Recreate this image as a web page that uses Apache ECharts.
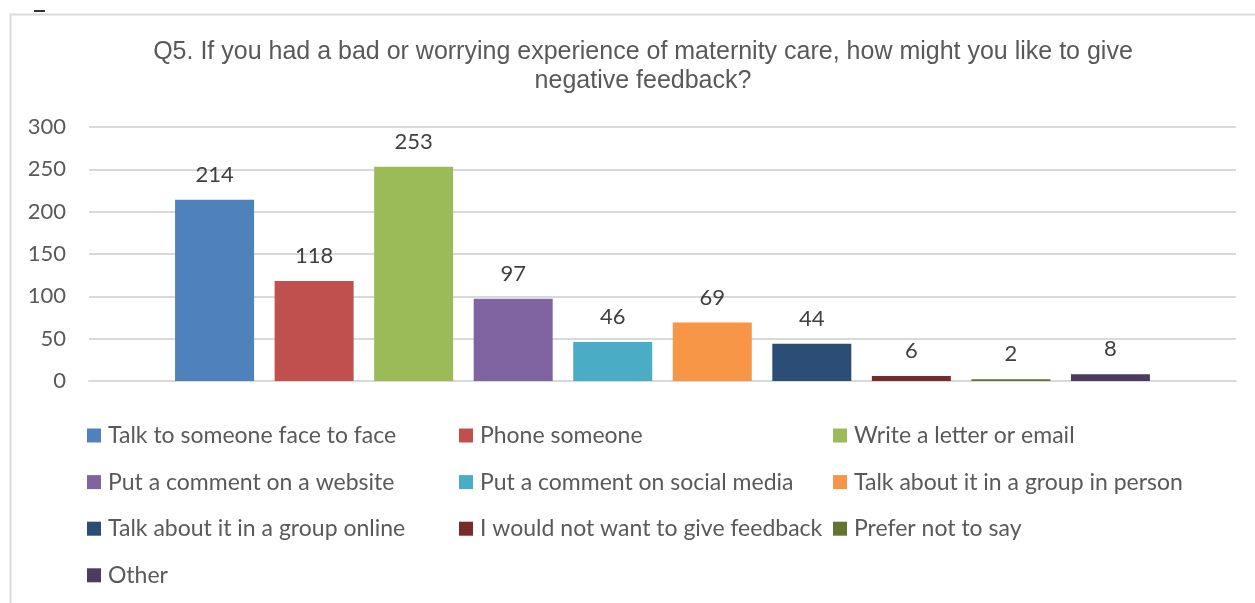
<!DOCTYPE html>
<html>
<head>
<meta charset="utf-8">
<script src="https://cdn.jsdelivr.net/npm/echarts@6/dist/echarts.min.js"></script>
<style>
  html, body { margin: 0; padding: 0; background: #ffffff; }
  #chart { width: 1255px; height: 603px; }
</style>
</head>
<body>
<div id="chart"></div>
<script>
// Responses to Q5, one series per answer option
const answers = [
  'Talk to someone face to face',
  'Phone someone',
  'Write a letter or email',
  'Put a comment on a website',
  'Put a comment on social media',
  'Talk about it in a group in person',
  'Talk about it in a group online',
  'I would not want to give feedback',
  'Prefer not to say',
  'Other'
];
const counts = [214, 118, 253, 97, 46, 69, 44, 6, 2, 8];
const colors = ['#4F81BD', '#C0504D', '#9BBB59', '#8064A2', '#4BACC6',
                '#F79646', '#2C4D75', '#772C2A', '#5F7530', '#4D3B62'];
const yTicks = [0, 50, 100, 150, 200, 250, 300];

// legend columns (answer indices)
const legendColumns = [[0, 3, 6, 9], [1, 4, 7], [2, 5, 8]];
const legendLeft = [87, 459, 833];

const chart = echarts.init(document.getElementById('chart'));

const series = answers.map((name, i) => ({
  name: name,
  type: 'bar',
  data: [counts[i]],
  barWidth: 79,
  barGap: '26%',
  itemStyle: { color: colors[i] },
  label: {
    show: true,
    position: 'top',
    distance: 14,
    color: '#404040',
    fontFamily: 'Lato',
    fontSize: 22
  }
}));

const legends = legendColumns.map((col, c) => ({
  orient: 'vertical',
  left: legendLeft[c],
  top: 424,
  height: 200,
  padding: 0,
  icon: 'rect',
  itemWidth: 14,
  itemHeight: 14,
  itemGap: 23.6,
  selectedMode: false,
  data: col.map(i => answers[i]),
  textStyle: {
    color: '#595959',
    fontFamily: 'Lato',
    fontSize: 23,
    padding: [0, 0, 0, 2]
  }
}));

chart.setOption({
  animation: false,
  title: {
    text: 'Q5. If you had a bad or worrying experience of maternity care, how might you like to give\nnegative feedback?',
    left: 638,
    textAlign: 'center',
    top: 33,
    textStyle: {
      color: '#595959',
      fontFamily: 'Liberation Sans',
      fontWeight: 'normal',
      fontSize: 25,
      lineHeight: 29
    }
  },
  graphic: [
    {
      type: 'rect',
      shape: { x: 10.5, y: 14.5, width: 1400, height: 800 },
      style: { fill: null, stroke: '#d9d9d9', lineWidth: 2 },
      silent: true
    },
    {
      type: 'rect',
      shape: { x: 34, y: 10, width: 11, height: 2 },
      style: { fill: '#333333' },
      silent: true
    }
  ],
  legend: legends,
  grid: { left: 89, right: 19, top: 127, bottom: 222 },
  xAxis: {
    type: 'category',
    data: [''],
    axisLine: { show: true, lineStyle: { color: '#d9d9d9', width: 2 } },
    axisTick: { show: false },
    axisLabel: { show: false }
  },
  yAxis: {
    type: 'value',
    min: yTicks[0],
    max: yTicks[yTicks.length - 1],
    interval: yTicks[1] - yTicks[0],
    axisLine: { show: false },
    axisTick: { show: false },
    axisLabel: {
      color: '#595959',
      fontFamily: 'Lato',
      fontSize: 22,
      margin: 23
    },
    splitLine: { lineStyle: { color: '#d9d9d9', width: 2 } }
  },
  series: series
});
</script>
</body>
</html>
